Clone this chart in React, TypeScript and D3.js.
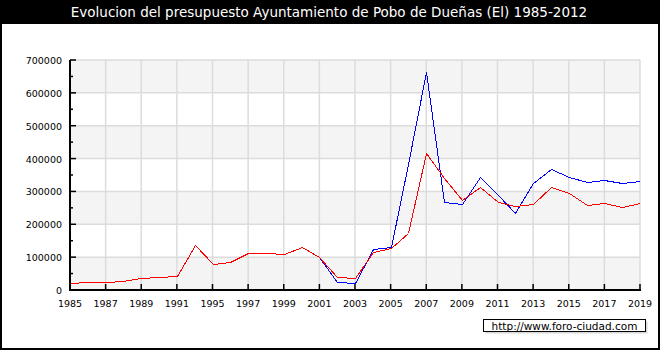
import React from 'react'
import * as d3 from 'd3'

const years = ['1985', '1986', '1987', '1988', '1989', '1990', '1991', '1993', '1995', '1996',
  '1997', '1998', '1999', '2000', '2001', '2002', '2003', '2004', '2005', '2006', '2007', '2008',
  '2009', '2010', '2011', '2012', '2013', '2014', '2015', '2016', '2017', '2018', '2019']

// blue
const ingresos = [20400, 23400, 23400, 28400, 35500, 38600, 41600, 136000, 78100, 86200,
  111600, 111600, 108500, 131800, 99400, 23400, 20400, 124800, 131800, 383400, 664300, 266900,
  261700, 343000, 289100, 235200, 324700, 367300, 344800, 327800, 334800, 324700, 330800]

// red
const gastos = [20400, 23400, 23400, 28400, 35500, 38600, 41600, 136000, 78100, 86200,
  111600, 111600, 108500, 131800, 99400, 38600, 35500, 114700, 128700, 172500, 416000, 339900,
  273900, 312500, 268700, 256500, 261700, 314400, 294300, 258700, 263800, 253500, 263800]

const yTicks = [0, 100000, 200000, 300000, 400000, 500000, 600000, 700000]
const title = 'Evolucion del presupuesto Ayuntamiento de Pobo de Dueñas (El) 1985-2012'
const credit = 'http://www.foro-ciudad.com'

const font = '"DejaVu Sans", Verdana, sans-serif'

export default function App () {
  const left = 70
  const right = 640
  const top = 60
  const bottom = 290

  const x = d3.scalePoint().domain(years).range([left, right])
  const y = d3.scaleLinear().domain([0, 700000]).range([bottom, top])

  const line = d3.line<number>()
    .x((d, i) => Math.round(x(years[i]) as number) + 0.5)
    .y(d => Math.round(y(d)) + 0.5)

  const xTickYears = years.filter((d, i) => i % 2 === 0)
  const minorTicks = d3.range(50000, 700000, 100000)

  return (
    <svg width={660} height={350} style={{ position: 'absolute', left: 0, top: 0, display: 'block' }}>
      <rect x={0} y={0} width={660} height={350} fill='#000' />
      <rect x={2} y={24} width={656} height={324} fill='#fff' />
      <text x={329} y={17} fill='#fff' textAnchor='middle' fontFamily={font} fontSize={13.5}>{title}</text>

      {yTicks.slice(0, -1).map((t, k) => (
        <rect key={'b' + t} x={left} y={y(t + 100000)} width={right - left} height={y(t) - y(t + 100000)}
          fill={k % 2 === 0 ? '#f4f4f4' : '#fff'} />
      ))}
      {yTicks.slice(1).map(t => (
        <line key={'h' + t} x1={left} x2={right} y1={y(t)} y2={y(t)} stroke='#dcdcdc' strokeWidth={1.5} />
      ))}
      {xTickYears.slice(1).map(d => (
        <line key={'v' + d} x1={x(d)} x2={x(d)} y1={top} y2={bottom} stroke='#dcdcdc' strokeWidth={1.5} />
      ))}

      <path d={line(ingresos) || ''} fill='none' stroke='#0000ff' strokeWidth={1} shapeRendering='crispEdges' />
      <path d={line(gastos) || ''} fill='none' stroke='#ff0000' strokeWidth={1} shapeRendering='crispEdges' />

      <line x1={left} x2={left} y1={top} y2={bottom + 1} stroke='#000' strokeWidth={2} />
      <line x1={left - 1} x2={right + 1} y1={bottom} y2={bottom} stroke='#000' strokeWidth={2} />
      {yTicks.map(t => (
        <g key={'yt' + t}>
          <line x1={left} x2={left + 6} y1={y(t)} y2={y(t)} stroke='#000' strokeWidth={1.5} />
          <text x={62} y={y(t) + 4} textAnchor='end' fontFamily={font} fontSize={9.5} fill='#000'>{t}</text>
        </g>
      ))}
      {minorTicks.map(t => (
        <line key={'mt' + t} x1={left} x2={left + 3} y1={y(t)} y2={y(t)} stroke='#000' strokeWidth={1.5} />
      ))}
      {xTickYears.map(d => (
        <g key={'xt' + d}>
          <line x1={x(d)} x2={x(d)} y1={bottom} y2={bottom - 6} stroke='#000' strokeWidth={1.5} />
          <text x={x(d)} y={306.5} textAnchor='middle' fontFamily={font} fontSize={9.5} fill='#000'>{d}</text>
        </g>
      ))}

      <rect x={485.5} y={321.5} width={162} height={12} fill='#d8d8d8' />
      <rect x={483.5} y={319.5} width={162} height={12} fill='#fff' stroke='#000' strokeWidth={1} />
      <text x={564.5} y={329.5} textAnchor='middle' fontFamily={font} fontSize={10.5} fill='#000'>{credit}</text>
    </svg>
  )
}
